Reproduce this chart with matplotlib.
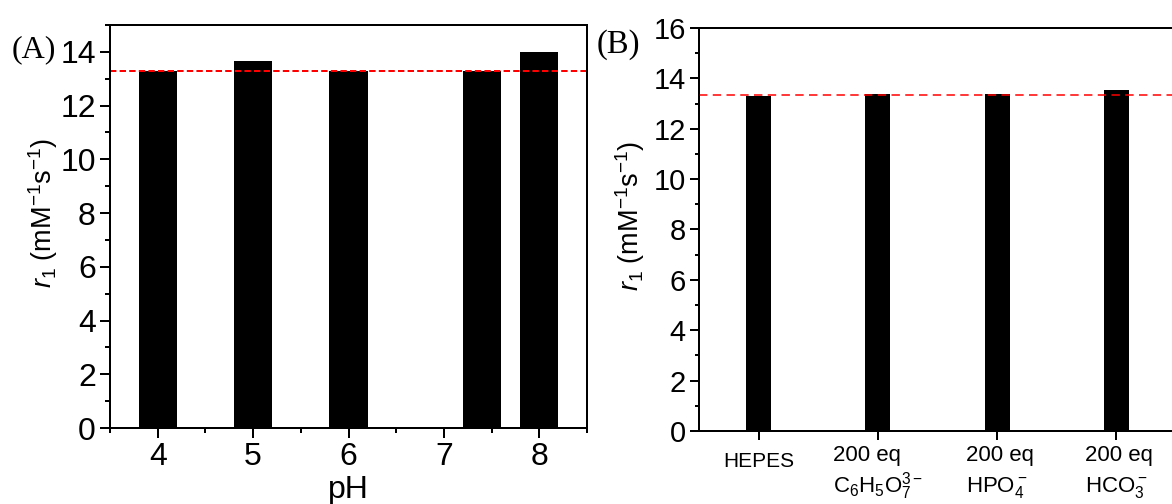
import matplotlib
matplotlib.use('Agg')
import numpy as np
import matplotlib.pyplot as plt
from matplotlib.ticker import MultipleLocator

plt.rcParams['font.family'] = ['Liberation Sans', 'DejaVu Sans']
plt.rcParams['mathtext.fontset'] = 'custom'
plt.rcParams['mathtext.rm'] = 'Liberation Sans'
plt.rcParams['mathtext.it'] = 'Liberation Sans:italic'
plt.rcParams['mathtext.bf'] = 'Liberation Sans:bold'
plt.rcParams['axes.linewidth'] = 1.44

# (A) relaxivity vs pH
ph = [4, 5, 6, 7.4, 8]
r1_ph = [13.28, 13.65, 13.28, 13.28, 14.0]
ph_ref = 13.3
ph_ticks = [4, 5, 6, 7, 8]

# (B) relaxivity with competing anions
ion_names = ['HEPES', '200 eq', '200 eq', '200 eq']
ion_formulas = ['', 'C$_6$H$_5$O$_7^{3-}$', 'HPO$_4^-$', 'HCO$_3^-$']
r1_ion = [13.30, 13.36, 13.38, 13.53]
ion_ref = 13.34

ylab = '$r_1$ (mM$^{-1}$s$^{-1}$)'

fig = plt.figure(figsize=(11.72, 5.04), dpi=100)
axA = fig.add_axes([110/1172, 76/504, 477/1172, 403/504])
axB = fig.add_axes([699/1172, 73/504, 477/1172, 403/504])

# ---- panel A ----
axA.bar(ph, r1_ph, width=0.4, color='black', linewidth=0)
axA.axhline(ph_ref, color='#ff0000', lw=1.44, ls=(0, (3.2, 1.6)))
axA.set_xlim(3.5, 8.5)
axA.set_ylim(0, 15)
axA.set_xticks(ph_ticks)
axA.xaxis.set_minor_locator(MultipleLocator(0.5))
axA.yaxis.set_major_locator(MultipleLocator(2))
axA.yaxis.set_minor_locator(MultipleLocator(1))
axA.tick_params(which='major', direction='out', length=7.2, width=1.44,
                labelsize=23, pad=3)
axA.tick_params(which='minor', direction='out', length=3.6, width=1.44)
axA.set_xlabel('pH', fontsize=23, labelpad=2)
axA.set_ylabel(ylab, fontsize=19.5)
axA.yaxis.set_label_coords(-0.105, 0.535)

# ---- panel B ----
xpos = np.arange(len(r1_ion))
axB.bar(xpos, r1_ion, width=0.21, color='black', linewidth=0)
axB.axhline(ion_ref, color='#ff0000', lw=1.1, ls=(0, (5.5, 3.5)))
axB.set_xlim(-0.5, 3.5)
axB.set_ylim(0, 16)
axB.set_xticks(xpos)
axB.set_xticklabels([])
axB.yaxis.set_major_locator(MultipleLocator(2))
axB.yaxis.set_minor_locator(MultipleLocator(1))
axB.tick_params(which='major', direction='out', length=6.5, width=1.44,
                labelsize=21, pad=3)
axB.tick_params(which='minor', direction='out', length=3.2, width=1.44)
axB.set_ylabel(ylab, fontsize=19.5)
axB.yaxis.set_label_coords(-0.109, 0.535)

# category names: two left-aligned lines centred under each bar
trans = axB.get_xaxis_transform()
for x, name, formula in zip(xpos, ion_names, ion_formulas):
    if not formula:
        axB.text(x, -0.089, name, transform=trans, ha='center',
                 va='baseline', fontsize=15)
        continue
    t2 = axB.text(x, -0.1514, formula, transform=trans, ha='center',
                  va='baseline', fontsize=16)
    axB.annotate(name, xy=(0, -0.0744), xycoords=(t2, 'axes fraction'),
                 ha='left', va='baseline', fontsize=16)

# panel letters
fig.text(12/1172, 1 - 57/504, '(A)', family='Liberation Serif',
         fontsize=23, va='baseline', ha='left')
fig.text(597/1172, 1 - 53/504, '(B)', family='Liberation Serif',
         fontsize=23.5, va='baseline', ha='left')

fig.savefig('out.png', dpi=100)
